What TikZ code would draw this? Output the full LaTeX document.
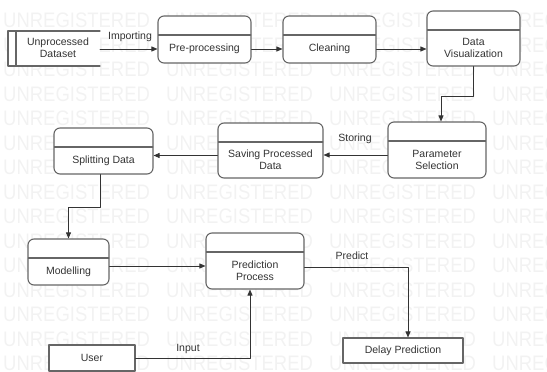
\documentclass[tikz,border=0pt]{standalone}
\usepackage{fontspec}
\setmainfont{Liberation Sans}
\usetikzlibrary{arrows.meta}
\tikzset{
  stagebox/.style={draw=black!60, line width=1.1pt, rounded corners=6pt, fill=white, inner sep=0pt,
    path picture={\draw[black!60, line width=1.1pt]
      ([yshift=-19pt]path picture bounding box.north west) --
      ([yshift=-19pt]path picture bounding box.north east);}},
  termbox/.style={draw=black!60, line width=1.1pt, fill=white, inner sep=0pt},
  txt/.style={font=\fontsize{10.5pt}{12pt}\selectfont, text=black!80, align=center, inner sep=0pt},
  flow/.style={draw=black!80, line width=0.9pt, -{Triangle[length=6pt,width=5pt]}},
  wmark/.style={font=\fontsize{21pt}{21pt}\selectfont, text=black!5, anchor=west, inner sep=0pt, xscale=0.88}
}
\begin{document}
\begin{tikzpicture}[x=1pt,y=-1pt,line cap=round,line join=round]
  \useasboundingbox (0,0) rectangle (547,372);
  % watermark
  \begin{scope}
    \clip (0,0) rectangle (547,372);
    \foreach \r in {0,...,14}
      \foreach \c in {0,...,3}
        \node[wmark] (wm-\r-\c) at (3+163*\c,20.3+24.5*\r) {UNREGISTERED};
  \end{scope}
  % data store
  \fill[white] (8,31) rectangle (100,66);
  \draw[black!60, line width=1.1pt] (100,31) -- (8,31) -- (8,66) -- (100,66);
  \draw[black!60, line width=1.1pt] (16,31) -- (16,66);
  \coordinate (storeout) at (100,49);
  \node[txt] (store) at (58,48) {Unprocessed\\Dataset};
  % stages
  \node[stagebox, minimum width=93pt, minimum height=47pt] (prep) at (204.5,39.5) {};
  \node[stagebox, minimum width=93pt, minimum height=47pt] (clean) at (329.5,39.5) {};
  \node[stagebox, minimum width=93pt, minimum height=55pt] (vis) at (473.5,38.5) {};
  \node[stagebox, minimum width=98pt, minimum height=56pt] (param) at (437,150) {};
  \node[stagebox, minimum width=105pt, minimum height=55pt] (save) at (270.5,150.5) {};
  \node[stagebox, minimum width=99pt, minimum height=46pt] (split) at (103.5,151) {};
  \node[stagebox, minimum width=81pt, minimum height=46pt] (model) at (68.5,262) {};
  \node[stagebox, minimum width=98pt, minimum height=56pt] (pred) at (255,261) {};
  \node[termbox, minimum width=86pt, minimum height=26pt] (user) at (92,358) {};
  \node[termbox, minimum width=120pt, minimum height=25pt] (delay) at (403,350.5) {};
  \node[txt] (prep-t) at ([yshift=-9.5pt]prep.center) {Pre-processing};
  \node[txt] (clean-t) at ([yshift=-9.5pt]clean.center) {Cleaning};
  \node[txt] (vis-t) at ([yshift=-9.5pt]vis.center) {Data\\Visualization};
  \node[txt] (param-t) at ([yshift=-9.5pt]param.center) {Parameter\\Selection};
  \node[txt] (save-t) at ([yshift=-9.5pt]save.center) {Saving Processed\\Data};
  \node[txt] (split-t) at ([yshift=-9.5pt]split.center) {Splitting Data};
  \node[txt] (model-t) at ([yshift=-9.5pt]model.center) {Modelling};
  \node[txt] (pred-t) at ([yshift=-9.5pt]pred.center) {Prediction\\Process};
  \node[txt] (user-t) at (user.center) {User};
  \node[txt] (delay-t) at (delay.center) {Delay Prediction};
  % connectors
  \draw[flow] (storeout) -- (prep.west |- storeout);
  \draw[flow] ([yshift=-9.5pt]prep.east) -- ([yshift=-9.5pt]clean.west);
  \draw[flow] ([yshift=-9.5pt]clean.east) -- ([yshift=-10.5pt]vis.west);
  \draw[flow] (vis.south) -- ++(0,30) -| ([xshift=4pt]param.north);
  \draw[flow] ([yshift=-5pt]param.west) -- ([yshift=-5pt]param.west -| save.east);
  \draw[flow] ([yshift=-5pt]save.west) -- ([yshift=-5pt]save.west -| split.east);
  \draw[flow] ([xshift=-3.5pt]split.south) -- ++(0,33) -| (model.north);
  \draw[flow] ([yshift=-4pt]model.east) -- ([yshift=-4pt]model.east -| pred.west);
  \draw[flow] (user.east) -| ([xshift=-5pt]pred.south);
  \draw[flow] ([yshift=-6pt]pred.east) -| ([xshift=5pt]delay.north);
  % labels
  \node[txt] (importing) at (130,37) {Importing};
  \node[txt] (storing) at (355,139) {Storing};
  \node[txt] (input) at (188,349) {Input};
  \node[txt] (predict) at (352,256) {Predict};
\end{tikzpicture}
\end{document}
